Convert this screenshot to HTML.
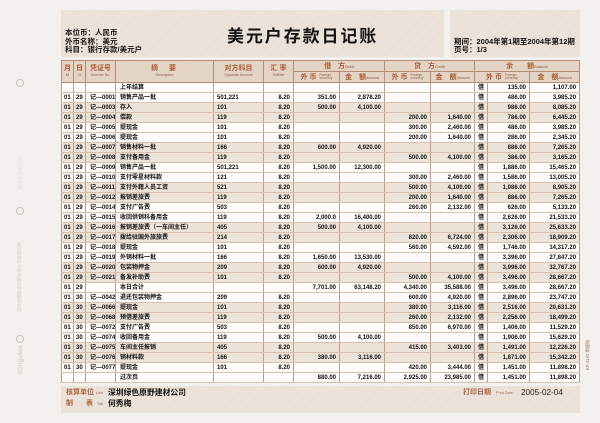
<!DOCTYPE html>
<html>
<head>
<meta charset="utf-8">
<style>
*{margin:0;padding:0;box-sizing:border-box;}
html,body{width:600px;height:423px;overflow:hidden;}
body{position:relative;background:#f3f1ee;font-family:"Liberation Sans","Noto Sans CJK SC",sans-serif;color:#222;}
.hatch{position:absolute;background:repeating-linear-gradient(135deg,#e7ddd2 0px,#e7ddd2 1px,#ede5dc 1px,#ede5dc 2.6px);}
.info{position:absolute;font-size:7.5px;font-weight:bold;line-height:8.7px;color:#141210;white-space:nowrap;}
.title{position:absolute;left:227px;top:22px;font-size:17px;letter-spacing:1.9px;color:#141210;font-weight:bold;white-space:nowrap;font-family:"Liberation Sans","Noto Sans CJK SC",sans-serif;}
table{position:absolute;left:61px;top:60px;width:518px;border-collapse:collapse;table-layout:fixed;border:1px solid #a98670;}
th{background:#e4d4c6;color:#ab5c33;border:1px solid #b38f78;font-weight:bold;font-size:7px;padding:0;white-space:nowrap;overflow:hidden;text-align:center;vertical-align:middle;}
th .e{display:block;font-size:3.6px;line-height:5px;font-weight:normal;color:#8a5a40;}
th .cn{display:block;line-height:8px;}
th .t{font-size:3.8px;font-weight:normal;color:#8a5a40;}
th .t2{display:inline-block;font-size:3.4px;line-height:3.6px;font-weight:normal;color:#8a5a40;text-align:left;vertical-align:middle;margin-left:3px;}
tr.h1{height:10px;}
tr.h2{height:11px;}
tr.d{height:10px;}
td{padding:0;height:10px;font-size:6px;line-height:8px;font-weight:bold;color:#141110;white-space:nowrap;overflow:hidden;background:#fdfcfa;border-left:1px solid #bf9f8a;border-right:1px solid #bf9f8a;border-top:1px solid #d5c0b1;border-bottom:1px solid #d5c0b1;}
tr.s td{background:#ede3d9;}
td:nth-child(1),td:nth-child(2){padding-left:2px;}
td:nth-child(3),td:nth-child(4){padding-left:4px;}
td:nth-child(5){padding-left:3px;}
td:nth-child(n+6){text-align:right;padding-right:3px;}
td:nth-child(11){text-align:center;padding:0;}
.ft{position:absolute;white-space:nowrap;}
.br{color:#ad6440;font-weight:bold;font-size:7px;}
.tiny{font-size:3.8px;color:#9a6a50;}
.bk{font-size:7.8px;font-weight:bold;color:#141210;}
.circ{position:absolute;width:8px;height:8px;border:1px solid #c9c1b9;border-radius:50%;}
.rot{position:absolute;transform:rotate(-90deg);transform-origin:center center;white-space:nowrap;color:#e0d8d0;}
</style>
</head>
<body>

<div class="circ" style="left:16px;top:79px;"></div>
<div class="circ" style="left:16px;top:207px;"></div>
<div class="circ" style="left:16px;top:335px;"></div>
<div class="rot" style="left:-3px;top:170px;width:46px;font-size:4.5px;text-align:center;">(0755) 26412399</div>
<div class="rot" style="left:-22px;top:274px;width:84px;font-size:4.4px;text-align:center;font-weight:bold;">深圳金蝶账表印刷有限公司监制印刷</div>
<div class="rot" style="left:2px;top:355px;width:36px;font-size:7.5px;font-style:italic;font-weight:bold;text-align:center;color:#dcd3c9;">Kingdee</div>
<div class="rot" style="left:566px;top:352px;width:44px;font-size:4.2px;text-align:center;color:#bd957e;font-weight:bold;">KP-Z102 明细账</div>

<div class="hatch" style="left:61px;top:10px;width:383px;height:47px;"></div>
<div class="hatch" style="left:450px;top:10px;width:130px;height:47px;"></div>
<div class="hatch" style="left:61px;top:386px;width:519px;height:27px;"></div>

<div class="info" style="left:65px;top:29px;">本位币：人民币<br>外币名称：美元<br>科目：银行存款/美元户</div>
<div class="title">美元户存款日记账</div>
<div class="info" style="left:454px;top:38px;line-height:8.2px;">期间：2004年第1期至2004年第12期<br>页号：1/3</div>

<table>
<colgroup>
<col style="width:12px"><col style="width:12px"><col style="width:30px"><col style="width:98px"><col style="width:50px"><col style="width:30px"><col style="width:46px"><col style="width:45px"><col style="width:46px"><col style="width:44px"><col style="width:13px"><col style="width:42px"><col style="width:50px">
</colgroup>
<tr class="h1">
<th rowspan="2"><span class="cn">月</span><span class="e">M</span></th>
<th rowspan="2"><span class="cn">日</span><span class="e">D</span></th>
<th rowspan="2"><span class="cn">凭证号</span><span class="e">Voucher No.</span></th>
<th rowspan="2"><span class="cn" style="letter-spacing:2px;">摘　要</span><span class="e">Description</span></th>
<th rowspan="2"><span class="cn">对方科目</span><span class="e">Opposite Account</span></th>
<th rowspan="2"><span class="cn">汇 率</span><span class="e">ExRate</span></th>
<th colspan="2">借　方<span class="t">Debit</span></th>
<th colspan="2">贷　方<span class="t">Credit</span></th>
<th colspan="3">余　　额<span class="t">Balance</span></th>
</tr>
<tr class="h2">
<th>外 币<span class="t2">Foreign<br>currency</span></th>
<th>金　额<span class="t">Amount</span></th>
<th>外 币<span class="t2">Foreign<br>currency</span></th>
<th>金　额<span class="t">Amount</span></th>
<th colspan="2">外 币<span class="t2">Foreign<br>currency</span></th>
<th>金　额<span class="t">Amount</span></th>
</tr>
<tr class="d"><td></td><td></td><td></td><td>上年结算</td><td></td><td></td><td></td><td></td><td></td><td></td><td>借</td><td>135.00</td><td>1,107.00</td></tr>
<tr class="d"><td>01</td><td>29</td><td>记—0001</td><td>销售产品一批</td><td>501,221</td><td>8.20</td><td>351.00</td><td>2,878.20</td><td></td><td></td><td>借</td><td>486.00</td><td>3,985.20</td></tr>
<tr class="d s"><td>01</td><td>29</td><td>记—0003</td><td>存入</td><td>101</td><td>8.20</td><td>500.00</td><td>4,100.00</td><td></td><td></td><td>借</td><td>986.00</td><td>8,085.20</td></tr>
<tr class="d s"><td>01</td><td>29</td><td>记—0004</td><td>偿款</td><td>119</td><td>8.20</td><td></td><td></td><td>200.00</td><td>1,640.00</td><td>借</td><td>786.00</td><td>6,445.20</td></tr>
<tr class="d"><td>01</td><td>29</td><td>记—0005</td><td>提现金</td><td>101</td><td>8.20</td><td></td><td></td><td>300.00</td><td>2,460.00</td><td>借</td><td>486.00</td><td>3,985.20</td></tr>
<tr class="d"><td>01</td><td>29</td><td>记—0006</td><td>提现金</td><td>101</td><td>8.20</td><td></td><td></td><td>200.00</td><td>1,640.00</td><td>借</td><td>286.00</td><td>2,345.20</td></tr>
<tr class="d s"><td>01</td><td>29</td><td>记—0007</td><td>销售材料一批</td><td>166</td><td>8.20</td><td>600.00</td><td>4,920.00</td><td></td><td></td><td>借</td><td>886.00</td><td>7,265.20</td></tr>
<tr class="d s"><td>01</td><td>29</td><td>记—0008</td><td>支付备用金</td><td>119</td><td>8.20</td><td></td><td></td><td>500.00</td><td>4,100.00</td><td>借</td><td>386.00</td><td>3,165.20</td></tr>
<tr class="d"><td>01</td><td>29</td><td>记—0009</td><td>销售产品一批</td><td>501,221</td><td>8.20</td><td>1,500.00</td><td>12,300.00</td><td></td><td></td><td>借</td><td>1,886.00</td><td>15,465.20</td></tr>
<tr class="d"><td>01</td><td>29</td><td>记—0010</td><td>支付零星材料款</td><td>121</td><td>8.20</td><td></td><td></td><td>300.00</td><td>2,460.00</td><td>借</td><td>1,586.00</td><td>13,005.20</td></tr>
<tr class="d s"><td>01</td><td>29</td><td>记—0011</td><td>支付外籍人员工资</td><td>521</td><td>8.20</td><td></td><td></td><td>500.00</td><td>4,100.00</td><td>借</td><td>1,086.00</td><td>8,905.20</td></tr>
<tr class="d s"><td>01</td><td>29</td><td>记—0012</td><td>报销差旅费</td><td>119</td><td>8.20</td><td></td><td></td><td>200.00</td><td>1,640.00</td><td>借</td><td>886.00</td><td>7,265.20</td></tr>
<tr class="d"><td>01</td><td>29</td><td>记—0014</td><td>支付广告费</td><td>503</td><td>8.20</td><td></td><td></td><td>260.00</td><td>2,132.00</td><td>借</td><td>626.00</td><td>5,133.20</td></tr>
<tr class="d"><td>01</td><td>29</td><td>记—0015</td><td>收回供销科备用金</td><td>119</td><td>8.20</td><td>2,000.0</td><td>16,400.00</td><td></td><td></td><td>借</td><td>2,626.00</td><td>21,533.20</td></tr>
<tr class="d s"><td>01</td><td>29</td><td>记—0016</td><td>报销差旅费（一车间主任）</td><td>405</td><td>8.20</td><td>500.00</td><td>4,100.00</td><td></td><td></td><td>借</td><td>3,126.00</td><td>25,633.20</td></tr>
<tr class="d s"><td>01</td><td>29</td><td>记—0017</td><td>拨给驻国外旅旅费</td><td>214</td><td>8.20</td><td></td><td></td><td>820.00</td><td>6,724.00</td><td>借</td><td>2,306.00</td><td>18,909.20</td></tr>
<tr class="d"><td>01</td><td>29</td><td>记—0018</td><td>提现金</td><td>101</td><td>8.20</td><td></td><td></td><td>560.00</td><td>4,592.00</td><td>借</td><td>1,746.00</td><td>14,317.20</td></tr>
<tr class="d"><td>01</td><td>29</td><td>记—0019</td><td>外销材料一批</td><td>166</td><td>8.20</td><td>1,650.00</td><td>13,530.00</td><td></td><td></td><td>借</td><td>3,396.00</td><td>27,847.20</td></tr>
<tr class="d s"><td>01</td><td>29</td><td>记—0020</td><td>包装物押金</td><td>209</td><td>8.20</td><td>600.00</td><td>4,920.00</td><td></td><td></td><td>借</td><td>3,996.00</td><td>32,767.20</td></tr>
<tr class="d s"><td>01</td><td>29</td><td>记—0021</td><td>备发补助费</td><td>101</td><td>8.20</td><td></td><td></td><td>500.00</td><td>4,100.00</td><td>借</td><td>3,496.00</td><td>28,667.20</td></tr>
<tr class="d"><td>01</td><td>29</td><td></td><td>本日合计</td><td></td><td></td><td>7,701.00</td><td>63,148.20</td><td>4,340.00</td><td>35,588.00</td><td>借</td><td>3,496.00</td><td>28,667.20</td></tr>
<tr class="d"><td>01</td><td>30</td><td>记—0042</td><td>退还包装物押金</td><td>209</td><td>8.20</td><td></td><td></td><td>600.00</td><td>4,920.00</td><td>借</td><td>2,896.00</td><td>23,747.20</td></tr>
<tr class="d s"><td>01</td><td>30</td><td>记—0066</td><td>提现金</td><td>101</td><td>8.20</td><td></td><td></td><td>380.00</td><td>3,116.00</td><td>借</td><td>2,516.00</td><td>20,631.20</td></tr>
<tr class="d s"><td>01</td><td>30</td><td>记—0068</td><td>预借差旅费</td><td>119</td><td>8.20</td><td></td><td></td><td>260.00</td><td>2,132.00</td><td>借</td><td>2,256.00</td><td>18,499.20</td></tr>
<tr class="d"><td>01</td><td>30</td><td>记—0072</td><td>支付广告费</td><td>503</td><td>8.20</td><td></td><td></td><td>850.00</td><td>6,970.00</td><td>借</td><td>1,406.00</td><td>11,529.20</td></tr>
<tr class="d"><td>01</td><td>30</td><td>记—0074</td><td>收回备用金</td><td>119</td><td>8.20</td><td>500.00</td><td>4,100.00</td><td></td><td></td><td>借</td><td>1,906.00</td><td>15,629.20</td></tr>
<tr class="d s"><td>01</td><td>30</td><td>记—0075</td><td>车间主任报销</td><td>405</td><td>8.20</td><td></td><td></td><td>415.00</td><td>3,403.00</td><td>借</td><td>1,491.00</td><td>12,226.20</td></tr>
<tr class="d s"><td>01</td><td>30</td><td>记—0076</td><td>销材料款</td><td>166</td><td>8.20</td><td>380.00</td><td>3,116.00</td><td></td><td></td><td>借</td><td>1,871.00</td><td>15,342.20</td></tr>
<tr class="d"><td>01</td><td>30</td><td>记—0077</td><td>提现金</td><td>101</td><td>8.20</td><td></td><td></td><td>420.00</td><td>3,444.00</td><td>借</td><td>1,451.00</td><td>11,898.20</td></tr>
<tr class="d"><td></td><td></td><td></td><td>过次页</td><td></td><td></td><td>880.00</td><td>7,216.00</td><td>2,925.00</td><td>23,985.00</td><td>借</td><td>1,451.00</td><td>11,898.20</td></tr>
</table>

<div class="ft br" style="left:66px;top:388px;line-height:10px;">核算单位</div>
<div class="ft tiny" style="left:96px;top:391px;line-height:5px;">Unit</div>
<div class="ft bk" style="left:108px;top:388px;line-height:10px;">深圳绿色原野建材公司</div>
<div class="ft br" style="left:66px;top:399px;line-height:10px;">制</div>
<div class="ft br" style="left:86px;top:399px;line-height:10px;">表</div>
<div class="ft tiny" style="left:97px;top:402px;line-height:5px;">Tab</div>
<div class="ft bk" style="left:108px;top:399px;line-height:10px;">何秀梅</div>

<div class="ft br" style="left:463px;top:388px;line-height:10px;">打印日期</div>
<div class="ft tiny" style="left:496px;top:391px;line-height:5px;">Print Date</div>
<div class="ft" style="left:521px;top:388px;line-height:10px;font-size:8.2px;color:#2b2725;">2005-02-04</div>

</body>
</html>
